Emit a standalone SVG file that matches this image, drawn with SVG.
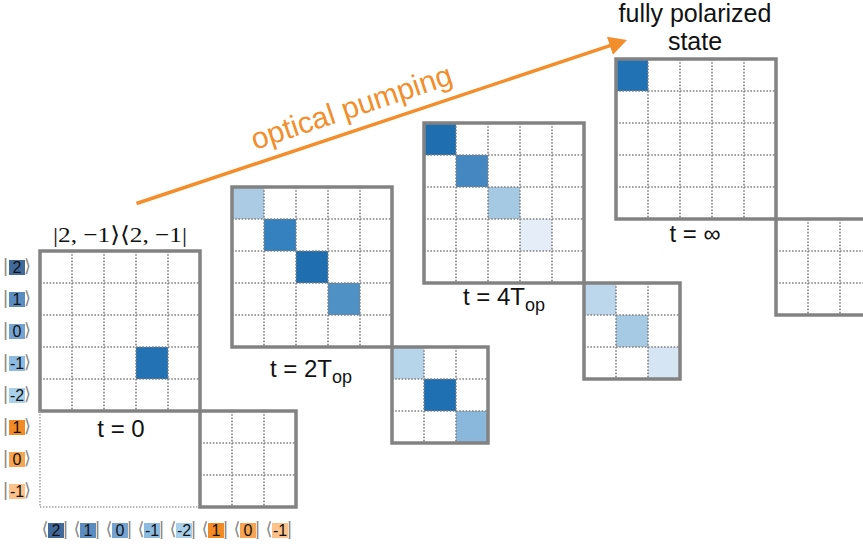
<svg xmlns="http://www.w3.org/2000/svg" xmlns:xlink="http://www.w3.org/1999/xlink" width="863" height="547" viewBox="0 0 863 547">
<style>
.box{fill:none;stroke:#828282;stroke-width:3.5}
.dot{fill:none;stroke:#808080;stroke-width:1.6;stroke-dasharray:1.6 1.6}
.dotl{fill:none;stroke:#9a9a9a;stroke-width:1.4;stroke-dasharray:1.4 1.6}
.lbl{font-family:"Liberation Sans",Arial,Helvetica,sans-serif;font-size:24px;fill:#111}
.big{font-size:25px}
.sub{font-size:18px}
.dig{font-family:"Liberation Sans",Arial,sans-serif;font-size:16px;fill:#111;text-anchor:middle}
.br{font-family:"DejaVu Sans",sans-serif;font-size:18px;fill:#8a8a8a;text-anchor:middle}
.arrow{stroke:#f28e2b;stroke-width:3.5;fill:none}
.op{font-family:"Liberation Sans",Arial,sans-serif;font-size:30px;fill:#f28e2b}
.b2{fill:#41699a}.b1{fill:#5b8cbf}.b0{fill:#74a3d2}.bm1{fill:#8cbae0}.bm2{fill:#a9d0ea}
.o1{fill:#f28a25}.o0{fill:#f7a552}.om1{fill:#fcc289}
</style>
<defs>
<path id="g5" class="dot" d="M32 0V160M64 0V160M96 0V160M128 0V160M0 32H160M0 64H160M0 96H160M0 128H160"/>
<path id="g3" class="dot" d="M32 0V96M64 0V96M0 32H96M0 64H96"/>
<marker id="ah" viewBox="0 0 18 19" refX="8" refY="9.5" markerWidth="18" markerHeight="19" markerUnits="userSpaceOnUse" orient="auto">
<path d="M0 0L18 9.5L0 19z" fill="#f28e2b"/>
</marker>
</defs>
<rect width="863" height="547" fill="#fff"/>

<g id="connectors">
<line class="arrow" x1="136.5" y1="203.5" x2="617.5" y2="43.2" marker-end="url(#ah)"/>
<text class="op" x="255" y="150" transform="rotate(-18.43 255 150)">optical pumping</text>
</g>

<g id="matrix-t0">
<rect x="136" y="347" width="32" height="32" fill="#2272b4"/>
<use xlink:href="#g5" x="40" y="251"/>
<rect class="box" x="40" y="251" width="160" height="160"/>
<path class="dotl" d="M40 411V507H200"/>
<use xlink:href="#g3" x="200" y="411"/>
<rect class="box" x="200" y="411" width="96" height="96"/>
<text x="120" y="242" text-anchor="middle" textLength="134" lengthAdjust="spacingAndGlyphs" style="font-family:'Liberation Serif','DejaVu Serif',serif;font-size:22px;fill:#111">|2, −1⟩⟨2, −1|</text>
<text class="lbl" x="121" y="437" text-anchor="middle">t = 0</text>
</g>

<g id="matrix-t2">
<rect x="232" y="187" width="32" height="32" fill="#aacbe3"/>
<rect x="264" y="219" width="32" height="32" fill="#3580be"/>
<rect x="296" y="251" width="32" height="32" fill="#1f6fb0"/>
<rect x="328" y="283" width="32" height="32" fill="#4f91c4"/>
<use xlink:href="#g5" x="232" y="187"/>
<rect class="box" x="232" y="187" width="160" height="160"/>
<rect x="392" y="347" width="32" height="32" fill="#b6d4ea"/>
<rect x="424" y="379" width="32" height="32" fill="#1f70b2"/>
<rect x="456" y="411" width="32" height="32" fill="#8ab8dc"/>
<use xlink:href="#g3" x="392" y="347"/>
<rect class="box" x="392" y="347" width="96" height="96"/>
<text class="lbl" x="270" y="376.5">t = 2T<tspan class="sub" dy="6">op</tspan></text>
</g>

<g id="matrix-t4">
<rect x="424" y="123" width="32" height="32" fill="#1f6fb0"/>
<rect x="456" y="155" width="32" height="32" fill="#4487c1"/>
<rect x="488" y="187" width="32" height="32" fill="#a5c8e3"/>
<rect x="520" y="219" width="32" height="32" fill="#e5eef8"/>
<use xlink:href="#g5" x="424" y="123"/>
<rect class="box" x="424" y="123" width="160" height="160"/>
<rect x="584" y="283" width="32" height="32" fill="#bcd7ec"/>
<rect x="616" y="315" width="32" height="32" fill="#a6cae4"/>
<rect x="648" y="347" width="32" height="32" fill="#d5e5f3"/>
<use xlink:href="#g3" x="584" y="283"/>
<rect class="box" x="584" y="283" width="96" height="96"/>
<text class="lbl" x="463" y="305">t = 4T<tspan class="sub" dy="6">op</tspan></text>
</g>

<g id="matrix-tinf">
<rect x="616" y="59" width="32" height="32" fill="#2171b5"/>
<use xlink:href="#g5" x="616" y="59"/>
<rect class="box" x="616" y="59" width="160" height="160"/>
<use xlink:href="#g3" x="776" y="219"/>
<rect class="box" x="776" y="219" width="96" height="96"/>
<text class="lbl" x="695" y="242" text-anchor="middle">t = ∞</text>
<text class="lbl big" x="695" y="21.5" text-anchor="middle">fully polarized</text>
<text class="lbl big" x="695" y="49.5" text-anchor="middle">state</text>
</g>

<g id="kets">
<rect class="b2" x="9" y="260" width="16" height="15"/><text class="br" x="5.5" y="272">|</text><text class="dig" x="17" y="273">2</text><text class="br" x="27.5" y="272">⟩</text>
<rect class="b1" x="9" y="292" width="16" height="15"/><text class="br" x="5.5" y="304">|</text><text class="dig" x="17" y="305">1</text><text class="br" x="27.5" y="304">⟩</text>
<rect class="b0" x="9" y="324" width="16" height="15"/><text class="br" x="5.5" y="336">|</text><text class="dig" x="17" y="337">0</text><text class="br" x="27.5" y="336">⟩</text>
<rect class="bm1" x="9" y="356" width="16" height="15"/><text class="br" x="5.5" y="368">|</text><text class="dig" x="17" y="369">-1</text><text class="br" x="27.5" y="368">⟩</text>
<rect class="bm2" x="9" y="388" width="16" height="15"/><text class="br" x="5.5" y="400">|</text><text class="dig" x="17" y="401">-2</text><text class="br" x="27.5" y="400">⟩</text>
<rect class="o1" x="9" y="420" width="16" height="15"/><text class="br" x="5.5" y="432">|</text><text class="dig" x="17" y="433">1</text><text class="br" x="27.5" y="432">⟩</text>
<rect class="o0" x="9" y="452" width="16" height="15"/><text class="br" x="5.5" y="464">|</text><text class="dig" x="17" y="465">0</text><text class="br" x="27.5" y="464">⟩</text>
<rect class="om1" x="9" y="484" width="16" height="15"/><text class="br" x="5.5" y="496">|</text><text class="dig" x="17" y="497">-1</text><text class="br" x="27.5" y="496">⟩</text>
</g>

<g id="bras">
<rect class="b2" x="48" y="523" width="16" height="15"/><text class="br" x="45" y="535">⟨</text><text class="dig" x="56" y="536">2</text><text class="br" x="65.5" y="535">|</text>
<rect class="b1" x="80" y="523" width="16" height="15"/><text class="br" x="77" y="535">⟨</text><text class="dig" x="88" y="536">1</text><text class="br" x="97.5" y="535">|</text>
<rect class="b0" x="112" y="523" width="16" height="15"/><text class="br" x="109" y="535">⟨</text><text class="dig" x="120" y="536">0</text><text class="br" x="129.5" y="535">|</text>
<rect class="bm1" x="144" y="523" width="16" height="15"/><text class="br" x="141" y="535">⟨</text><text class="dig" x="152" y="536">-1</text><text class="br" x="161.5" y="535">|</text>
<rect class="bm2" x="176" y="523" width="16" height="15"/><text class="br" x="173" y="535">⟨</text><text class="dig" x="184" y="536">-2</text><text class="br" x="193.5" y="535">|</text>
<rect class="o1" x="208" y="523" width="16" height="15"/><text class="br" x="205" y="535">⟨</text><text class="dig" x="216" y="536">1</text><text class="br" x="225.5" y="535">|</text>
<rect class="o0" x="240" y="523" width="16" height="15"/><text class="br" x="237" y="535">⟨</text><text class="dig" x="248" y="536">0</text><text class="br" x="257.5" y="535">|</text>
<rect class="om1" x="272" y="523" width="16" height="15"/><text class="br" x="269" y="535">⟨</text><text class="dig" x="280" y="536">-1</text><text class="br" x="289.5" y="535">|</text>
</g>
</svg>
